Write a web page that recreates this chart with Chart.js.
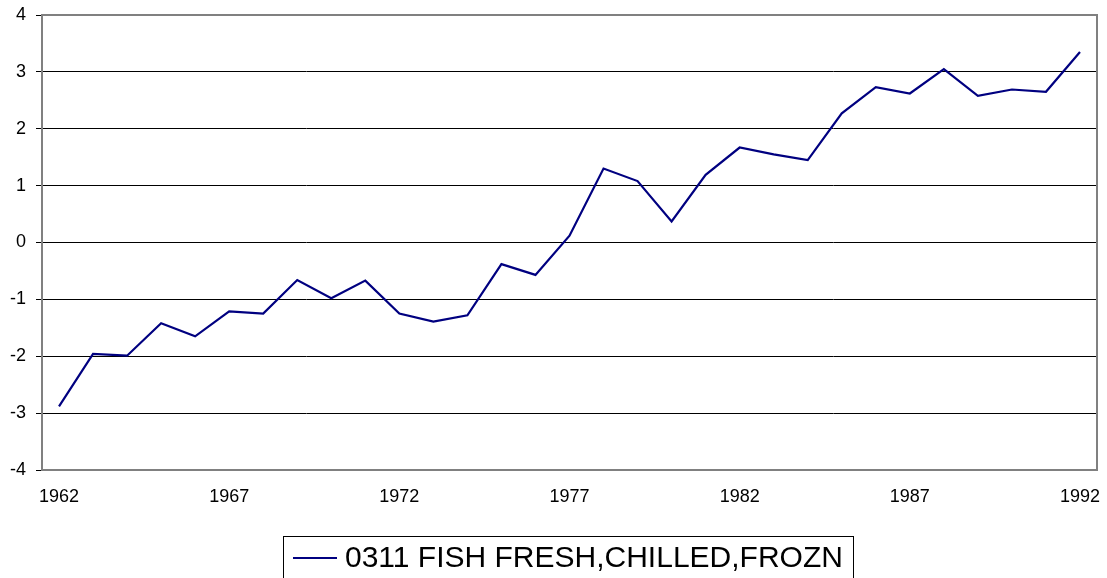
<!DOCTYPE html>
<html>
<head>
<meta charset="utf-8">
<script src="https://cdn.jsdelivr.net/npm/chart.js@4/dist/chart.umd.min.js"></script>
<style>
  html, body { margin: 0; padding: 0; background: #fff; }
  #wrap { width: 1107px; height: 578px; position: relative; }
</style>
</head>
<body>
<div id="wrap"><canvas id="fishChart" width="1107" height="578"></canvas></div>
<script>
const years = [];
for (let y = 1962; y <= 1992; y++) years.push(String(y));

const seriesName = "0311 FISH FRESH,CHILLED,FROZN";
const values = [
  -2.88, -1.96, -1.99, -1.42, -1.65, -1.21, -1.25, -0.66, -0.98, -0.67,
  -1.25, -1.39, -1.28, -0.38, -0.57, 0.12, 1.30, 1.08, 0.37, 1.19,
  1.67, 1.55, 1.45, 2.27, 2.73, 2.62, 3.05, 2.58, 2.69, 2.65,
  3.35
];
const yTicks = [-4, -3, -2, -1, 0, 1, 2, 3, 4];

const FONT = "'Liberation Sans', Arial, sans-serif";

// grey frame on top/right plus the boxed legend under the chart
const framePlugin = {
  id: "frame",
  afterDraw(chart) {
    const ctx = chart.ctx;
    const a = chart.chartArea;
    ctx.save();
    ctx.strokeStyle = "#808080";
    ctx.lineWidth = 2;
    ctx.beginPath();
    ctx.moveTo(a.left, a.top);
    ctx.lineTo(a.right, a.top);
    ctx.lineTo(a.right, a.bottom);
    ctx.stroke();

    // legend
    const bx = 283, by = 536, bw = 570, bh = 50;
    ctx.strokeStyle = "#000";
    ctx.lineWidth = 1;
    ctx.strokeRect(bx + 0.5, by + 0.5, bw, bh);
    ctx.strokeStyle = "#000080";
    ctx.lineWidth = 2;
    ctx.beginPath();
    ctx.moveTo(bx + 10, by + 22);
    ctx.lineTo(bx + 54, by + 22);
    ctx.stroke();
    ctx.fillStyle = "#000";
    ctx.font = "30px " + FONT;
    ctx.textBaseline = "middle";
    ctx.fillText(chart.data.datasets[0].label, bx + 62, by + 23);
    ctx.restore();
  }
};

new Chart(document.getElementById("fishChart"), {
  type: "line",
  data: {
    labels: years,
    datasets: [{
      label: seriesName,
      data: values,
      borderColor: "#000080",
      borderWidth: 2.2,
      pointRadius: 0,
      tension: 0,
      fill: false
    }]
  },
  options: {
    responsive: false,
    animation: false,
    events: [],
    layout: { padding: { left: 0, top: 15, right: 10, bottom: 68 } },
    plugins: { legend: { display: false }, tooltip: { enabled: false } },
    scales: {
      x: {
        offset: true,
        grid: { display: false, drawTicks: false },
        border: { display: true, color: "#808080", width: 2 },
        ticks: {
          autoSkip: false,
          maxRotation: 0,
          padding: 16,
          color: "#000",
          font: { family: FONT, size: 18 },
          callback: function (v, i) { return i % 5 === 0 ? years[i] : ""; }
        },
        afterFit: s => { s.height = 40; s.paddingLeft = 0; s.paddingRight = 0; }
      },
      y: {
        min: -4,
        max: 4,
        afterBuildTicks: s => { s.ticks = yTicks.map(v => ({ value: v })); },
        grid: { color: "#000", lineWidth: 1, tickLength: 6, drawTicks: true },
        border: { display: true, color: "#808080", width: 2 },
        ticks: {
          padding: 10,
          color: "#000",
          font: { family: FONT, size: 18 }
        },
        afterFit: s => { s.width = 42; s.paddingTop = 0; s.paddingBottom = 0; }
      }
    }
  },
  plugins: [framePlugin]
});
</script>
</body>
</html>
